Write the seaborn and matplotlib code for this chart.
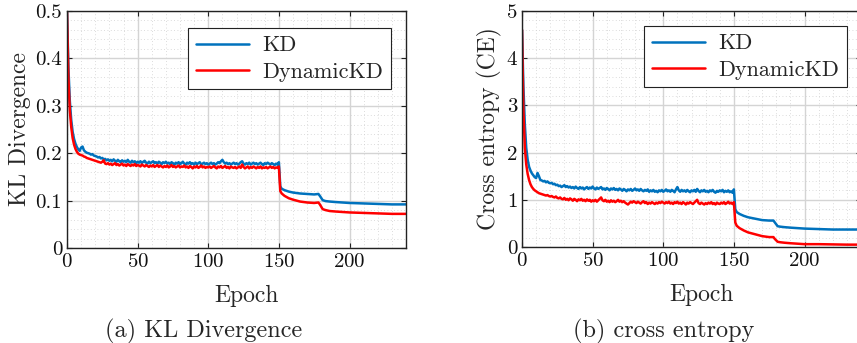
import numpy as np
import pandas as pd
import matplotlib
matplotlib.use("Agg")
import matplotlib.pyplot as plt
from matplotlib import ticker
import seaborn as sns

# ---------------- data ----------------
epochs = (list(range(0, 151))
          + [151, 152, 154, 157, 160, 165, 170, 175, 178, 179, 181, 183, 186,
             190, 195, 200, 210, 220, 230, 240])

kl_kd = [0.50, 0.38, 0.31, 0.27, 0.245, 0.23, 0.22, 0.213, 0.208, 0.205, 0.212,
         0.214, 0.206, 0.203, 0.201, 0.200, 0.199, 0.197, 0.198, 0.195, 0.194,
         0.193, 0.191, 0.192, 0.189, 0.190, 0.187, 0.188, 0.185, 0.187, 0.184,
         0.186, 0.183, 0.187, 0.184, 0.182, 0.186, 0.183, 0.181, 0.185, 0.182,
         0.184, 0.181, 0.186, 0.182, 0.180, 0.184, 0.181, 0.183, 0.179, 0.182,
         0.180, 0.183, 0.179, 0.182, 0.184, 0.180, 0.178, 0.182, 0.179, 0.181,
         0.183, 0.179, 0.181, 0.178, 0.182, 0.180, 0.177, 0.181, 0.179, 0.182,
         0.178, 0.180, 0.177, 0.181, 0.179, 0.176, 0.180, 0.178, 0.181, 0.177,
         0.179, 0.182, 0.178, 0.176, 0.180, 0.178, 0.181, 0.177, 0.179, 0.176,
         0.180, 0.177, 0.179, 0.181, 0.176, 0.178, 0.180, 0.177, 0.179, 0.176,
         0.178, 0.180, 0.177, 0.179, 0.176, 0.178, 0.181, 0.179, 0.183, 0.186,
         0.181, 0.178, 0.180, 0.177, 0.179, 0.176, 0.178, 0.180, 0.177, 0.179,
         0.176, 0.178, 0.181, 0.183, 0.178, 0.176, 0.179, 0.177, 0.180, 0.176,
         0.178, 0.180, 0.177, 0.179, 0.176, 0.178, 0.180, 0.177, 0.175, 0.179,
         0.177, 0.180, 0.178, 0.176, 0.179, 0.177, 0.175, 0.178, 0.176, 0.181,
         0.130, 0.125, 0.122, 0.119, 0.117, 0.115, 0.114, 0.113, 0.114, 0.110,
         0.101, 0.099, 0.098, 0.097, 0.096, 0.095, 0.094, 0.093, 0.092, 0.092]

kl_dkd = [0.50, 0.36, 0.29, 0.255, 0.232, 0.218, 0.209, 0.203, 0.199, 0.197, 0.196,
          0.195, 0.193, 0.192, 0.190, 0.189, 0.188, 0.187, 0.186, 0.185, 0.184,
          0.183, 0.182, 0.181, 0.180, 0.182, 0.185, 0.178, 0.177, 0.179, 0.176,
          0.178, 0.175, 0.177, 0.179, 0.175, 0.177, 0.174, 0.176, 0.178, 0.174,
          0.176, 0.173, 0.177, 0.175, 0.173, 0.176, 0.174, 0.177, 0.173, 0.175,
          0.174, 0.172, 0.176, 0.174, 0.172, 0.175, 0.173, 0.171, 0.174, 0.172,
          0.175, 0.171, 0.173, 0.175, 0.171, 0.174, 0.172, 0.170, 0.173, 0.171,
          0.174, 0.170, 0.172, 0.175, 0.171, 0.173, 0.170, 0.172, 0.174, 0.170,
          0.172, 0.171, 0.174, 0.170, 0.172, 0.169, 0.173, 0.171, 0.168, 0.172,
          0.170, 0.173, 0.169, 0.171, 0.174, 0.170, 0.172, 0.169, 0.171, 0.170,
          0.172, 0.169, 0.171, 0.173, 0.170, 0.168, 0.172, 0.170, 0.173, 0.169,
          0.171, 0.173, 0.169, 0.171, 0.168, 0.172, 0.170, 0.169, 0.171, 0.168,
          0.170, 0.172, 0.169, 0.176, 0.171, 0.168, 0.170, 0.172, 0.168, 0.171,
          0.169, 0.172, 0.170, 0.168, 0.171, 0.169, 0.172, 0.168, 0.170, 0.169,
          0.171, 0.168, 0.170, 0.172, 0.169, 0.171, 0.168, 0.170, 0.169, 0.172,
          0.120, 0.115, 0.110, 0.105, 0.102, 0.098, 0.096, 0.095, 0.096, 0.092,
          0.082, 0.080, 0.078, 0.077, 0.076, 0.075, 0.074, 0.073, 0.072, 0.072]

ce_kd = [4.6, 3.4, 2.6, 2.1, 1.85, 1.7, 1.62, 1.56, 1.52, 1.48, 1.46,
         1.57, 1.50, 1.42, 1.41, 1.39, 1.40, 1.37, 1.39, 1.36, 1.35,
         1.36, 1.33, 1.34, 1.31, 1.32, 1.29, 1.30, 1.27, 1.29, 1.31,
         1.27, 1.29, 1.26, 1.28, 1.25, 1.27, 1.24, 1.28, 1.25, 1.23,
         1.27, 1.24, 1.26, 1.22, 1.25, 1.27, 1.23, 1.26, 1.24, 1.28,
         1.24, 1.22, 1.26, 1.23, 1.25, 1.27, 1.22, 1.24, 1.21, 1.25,
         1.23, 1.20, 1.24, 1.22, 1.25, 1.21, 1.23, 1.20, 1.24, 1.22,
         1.19, 1.23, 1.21, 1.18, 1.22, 1.20, 1.23, 1.19, 1.21, 1.24,
         1.20, 1.22, 1.19, 1.23, 1.20, 1.18, 1.21, 1.19, 1.22, 1.17,
         1.20, 1.18, 1.21, 1.17, 1.19, 1.16, 1.20, 1.18, 1.21, 1.17,
         1.19, 1.22, 1.18, 1.20, 1.17, 1.21, 1.19, 1.16, 1.22, 1.27,
         1.20, 1.17, 1.21, 1.18, 1.20, 1.17, 1.21, 1.18, 1.16, 1.20,
         1.18, 1.21, 1.17, 1.23, 1.19, 1.16, 1.20, 1.18, 1.21, 1.17,
         1.19, 1.16, 1.20, 1.18, 1.21, 1.17, 1.15, 1.19, 1.17, 1.20,
         1.18, 1.21, 1.16, 1.19, 1.17, 1.20, 1.16, 1.18, 1.15, 1.22,
         0.80, 0.74, 0.70, 0.66, 0.63, 0.60, 0.57, 0.56, 0.56, 0.52,
         0.44, 0.43, 0.42, 0.41, 0.40, 0.39, 0.38, 0.37, 0.37, 0.37]

ce_dkd = [4.6, 2.9, 2.1, 1.75, 1.55, 1.42, 1.33, 1.27, 1.23, 1.20, 1.18,
          1.16, 1.14, 1.13, 1.12, 1.11, 1.10, 1.09, 1.10, 1.08, 1.07,
          1.08, 1.06, 1.05, 1.07, 1.04, 1.03, 1.05, 1.02, 1.01, 1.04,
          1.00, 1.02, 0.99, 1.03, 1.01, 0.98, 1.02, 1.00, 0.97, 1.01,
          0.99, 1.02, 0.98, 1.00, 0.97, 1.01, 0.98, 1.00, 0.96, 0.99,
          0.97, 1.00, 0.96, 0.99, 1.02, 1.05, 0.99, 0.97, 1.00, 0.96,
          0.98, 0.95, 0.99, 0.96, 0.98, 0.95, 0.97, 1.00, 0.96, 0.98,
          0.95, 0.97, 0.94, 0.92, 0.90, 0.93, 0.96, 0.94, 0.97, 0.95,
          0.93, 0.96, 0.94, 0.92, 0.95, 0.97, 0.93, 0.95, 0.91, 0.94,
          0.92, 0.95, 0.93, 0.91, 0.94, 0.92, 0.95, 0.93, 0.96, 0.94,
          0.92, 0.95, 0.93, 0.96, 0.92, 0.94, 0.91, 0.95, 0.93, 0.96,
          0.92, 0.94, 0.91, 0.95, 0.93, 0.90, 0.94, 0.92, 0.95, 0.93,
          0.91, 0.94, 0.97, 1.00, 0.93, 0.91, 0.94, 0.92, 0.90, 0.93,
          0.91, 0.94, 0.92, 0.95, 0.91, 0.93, 0.90, 0.94, 0.92, 0.91,
          0.94, 0.92, 0.95, 0.91, 0.93, 0.96, 0.92, 0.94, 0.91, 0.95,
          0.52, 0.45, 0.40, 0.35, 0.31, 0.27, 0.23, 0.21, 0.21, 0.17,
          0.11, 0.10, 0.09, 0.08, 0.07, 0.06, 0.06, 0.055, 0.05, 0.05]

series_names = ["KD", "DynamicKD"]
x_ticks = [0, 50, 100, 150, 200]
kl_ticks = [0, 0.1, 0.2, 0.3, 0.4, 0.5]
ce_ticks = [0, 1, 2, 3, 4, 5]

for s in (kl_kd, kl_dkd, ce_kd, ce_dkd):
    assert len(s) == len(epochs), (len(s), len(epochs))

# ---------------- style ----------------
sns.set_theme(style="white")
plt.rcParams["font.family"] = ["cmr10", "DejaVu Serif"]
plt.rcParams["mathtext.fontset"] = "cm"
plt.rcParams["axes.formatter.use_mathtext"] = True
plt.rcParams["axes.unicode_minus"] = False

palette = {"KD": "#0072BD", "DynamicKD": "#FF0000"}

fig = plt.figure(figsize=(8.57, 3.43), dpi=100)
W, H = 857, 343
ax1 = fig.add_axes([67 / W, (H - 248) / H, 339 / W, 237 / H])
ax2 = fig.add_axes([522 / W, (H - 247) / H, 339 / W, 236 / H])


def long_df(kd, dkd):
    return pd.DataFrame({
        "Epoch": epochs + epochs,
        "value": kd + dkd,
        "Method": [series_names[0]] * len(epochs) + [series_names[1]] * len(epochs),
    })


def style_axis(ax, yticks, ymax, yminor, ylabel, legend_off, axh):
    ax.set_xlim(0, 240)
    ax.set_ylim(0, ymax)
    ax.set_xticks(x_ticks)
    ax.set_yticks(yticks)
    ax.xaxis.set_minor_locator(ticker.MultipleLocator(10))
    ax.yaxis.set_minor_locator(ticker.MultipleLocator(yminor))
    ax.yaxis.set_major_formatter(ticker.FuncFormatter(lambda v, p: f"{v:g}"))
    ax.grid(True, which="major", color="#d4d4d4", linewidth=1.0, linestyle="-")
    ax.grid(True, which="minor", color="#d0d0d0", linewidth=0.6, linestyle=(0, (1, 3)))
    ax.set_axisbelow(True)
    ax.tick_params(which="major", direction="in", length=3.5, width=0.8,
                   top=True, right=True, bottom=True, left=True,
                   labelsize=15, pad=3.5, colors="#222222", labelcolor="#111111")
    ax.tick_params(which="minor", length=0, top=True, right=True)
    for sp in ax.spines.values():
        sp.set_color("#222222")
        sp.set_linewidth(1.0)
    ax.set_xlabel("Epoch", fontsize=17)
    ax.xaxis.set_label_coords(0.5 + 10 / 339, -54 / axh, transform=ax.transAxes)
    ax.xaxis.label.set_va("baseline")
    ax.set_ylabel(ylabel, fontsize=17, labelpad=3)
    leg = ax.legend(loc="upper right", bbox_to_anchor=legend_off, fontsize=16,
                    frameon=True, fancybox=False, shadow=False, framealpha=1,
                    edgecolor="#222222", handlelength=2.4, borderpad=0.35,
                    labelspacing=0.3, handletextpad=0.6, borderaxespad=0)
    leg.get_frame().set_linewidth(0.8)


sns.lineplot(data=long_df(kl_kd, kl_dkd), x="Epoch", y="value", hue="Method",
             palette=palette, linewidth=1.8, ax=ax1, legend=True)
sns.lineplot(data=long_df(ce_kd, ce_dkd), x="Epoch", y="value", hue="Method",
             palette=palette, linewidth=1.8, ax=ax2, legend=True)

style_axis(ax1, kl_ticks, 0.5, 0.02, "KL Divergence",
           ((391 - 67) / 339, (248 - 28) / 237), 237)
style_axis(ax2, ce_ticks, 5, 0.2, "Cross entropy (CE)",
           ((847 - 522) / 339, (247 - 26) / 236), 236)

fig.text(204 / W, (H - 337) / H, "(a) KL Divergence", ha="center", va="baseline",
         fontsize=17.5)
fig.text(664 / W, (H - 337) / H, "(b) cross entropy", ha="center", va="baseline",
         fontsize=17.5)

fig.savefig("out.png", dpi=100)
